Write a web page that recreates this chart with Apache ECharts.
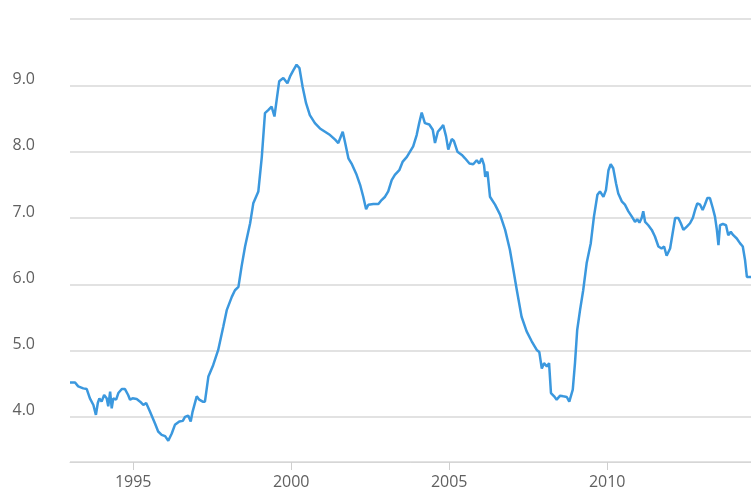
<!DOCTYPE html>
<html>
<head>
<meta charset="utf-8">
<script src="https://cdn.jsdelivr.net/npm/echarts@6/dist/echarts.min.js"></script>
<style>
  html, body { margin: 0; padding: 0; background: #ffffff; }
  #chart { width: 751px; height: 488px; }
</style>
</head>
<body>
<div id="chart"></div>
<script>
// Time (decimal years) and values
const years = [
  1993.00, 1993.16, 1993.26, 1993.42, 1993.53, 1993.63, 1993.74, 1993.82, 1993.88, 1993.93,
  1994.00, 1994.08, 1994.16, 1994.21, 1994.27, 1994.32, 1994.37, 1994.46, 1994.53, 1994.64,
  1994.74, 1994.84, 1994.90, 1994.98, 1995.11, 1995.22, 1995.32, 1995.41, 1995.53, 1995.69,
  1995.79, 1995.90, 1996.01, 1996.11, 1996.22, 1996.32, 1996.46, 1996.57, 1996.64, 1996.74,
  1996.82, 1996.88, 1997.01, 1997.09, 1997.20, 1997.27, 1997.38, 1997.53, 1997.69, 1997.85,
  1997.96, 1998.12, 1998.22, 1998.33, 1998.43, 1998.54, 1998.70, 1998.80, 1998.96, 1999.07,
  1999.17, 1999.28, 1999.38, 1999.47, 1999.54, 1999.62, 1999.75, 1999.88, 1999.96, 2000.07,
  2000.17, 2000.26, 2000.36, 2000.47, 2000.59, 2000.75, 2000.91, 2001.07, 2001.23, 2001.39,
  2001.49, 2001.54, 2001.63, 2001.70, 2001.81, 2001.91, 2001.97, 2002.07, 2002.18, 2002.28,
  2002.37, 2002.44, 2002.60, 2002.76, 2002.86, 2002.97, 2003.07, 2003.18, 2003.28, 2003.42,
  2003.53, 2003.66, 2003.76, 2003.86, 2003.97, 2004.05, 2004.13, 2004.23, 2004.37, 2004.48,
  2004.55, 2004.64, 2004.73, 2004.81, 2004.90, 2004.97, 2005.08, 2005.15, 2005.26, 2005.40,
  2005.50, 2005.64, 2005.76, 2005.87, 2005.95, 2006.03, 2006.10, 2006.14, 2006.21, 2006.29,
  2006.45, 2006.61, 2006.77, 2006.92, 2007.03, 2007.14, 2007.29, 2007.45, 2007.61, 2007.77,
  2007.85, 2007.93, 2008.00, 2008.09, 2008.16, 2008.22, 2008.32, 2008.40, 2008.51, 2008.61,
  2008.72, 2008.80, 2008.91, 2008.98, 2009.05, 2009.14, 2009.24, 2009.35, 2009.48, 2009.58,
  2009.69, 2009.77, 2009.88, 2009.96, 2010.04, 2010.11, 2010.19, 2010.28, 2010.35, 2010.46,
  2010.56, 2010.67, 2010.78, 2010.88, 2010.95, 2011.02, 2011.09, 2011.14, 2011.20, 2011.30,
  2011.41, 2011.51, 2011.62, 2011.72, 2011.80, 2011.88, 2011.99, 2012.07, 2012.15, 2012.25,
  2012.33, 2012.41, 2012.52, 2012.62, 2012.71, 2012.78, 2012.85, 2012.94, 2013.02, 2013.09,
  2013.17, 2013.25, 2013.34, 2013.41, 2013.47, 2013.52, 2013.57, 2013.66, 2013.76, 2013.83,
  2013.91, 2013.99, 2014.10, 2014.20, 2014.29, 2014.36, 2014.42, 2014.55
];
const values = [
  4.52, 4.52, 4.46, 4.43, 4.42, 4.28, 4.18, 4.03, 4.21, 4.28,
  4.23, 4.33, 4.28, 4.16, 4.38, 4.13, 4.28, 4.26, 4.36, 4.42,
  4.42, 4.33, 4.26, 4.28, 4.27, 4.23, 4.18, 4.21, 4.08, 3.90,
  3.78, 3.73, 3.71, 3.64, 3.75, 3.88, 3.93, 3.94, 4.00, 4.02,
  3.93, 4.08, 4.31, 4.26, 4.23, 4.23, 4.61, 4.78, 5.01, 5.36,
  5.61, 5.81, 5.91, 5.96, 6.27, 6.57, 6.92, 7.22, 7.40, 7.92,
  8.58, 8.63, 8.68, 8.53, 8.78, 9.06, 9.11, 9.03, 9.13, 9.23,
  9.31, 9.26, 8.98, 8.73, 8.55, 8.43, 8.35, 8.30, 8.25, 8.18,
  8.13, 8.15, 8.30, 8.15, 7.90, 7.82, 7.80, 7.65, 7.50, 7.32,
  7.13, 7.20, 7.21, 7.21, 7.27, 7.32, 7.40, 7.57, 7.65, 7.72,
  7.85, 7.92, 8.00, 8.08, 8.25, 8.43, 8.59, 8.43, 8.41, 8.33,
  8.13, 8.30, 8.35, 8.40, 8.23, 8.03, 8.19, 8.16, 8.00, 7.95,
  7.90, 7.82, 7.81, 7.87, 7.82, 7.90, 7.80, 7.62, 7.70, 7.32,
  7.20, 7.05, 6.82, 6.52, 6.22, 5.91, 5.51, 5.29, 5.14, 5.01,
  4.98, 4.73, 4.81, 4.76, 4.81, 4.36, 4.31, 4.26, 4.32, 4.31,
  4.30, 4.23, 4.41, 4.81, 5.31, 5.61, 5.91, 6.32, 6.62, 7.02,
  7.35, 7.40, 7.32, 7.42, 7.72, 7.81, 7.75, 7.52, 7.37, 7.25,
  7.20, 7.10, 7.02, 6.94, 6.98, 6.93, 7.00, 7.10, 6.94, 6.89,
  6.82, 6.72, 6.57, 6.54, 6.57, 6.43, 6.54, 6.77, 7.00, 7.00,
  6.92, 6.82, 6.87, 6.92, 7.00, 7.12, 7.22, 7.20, 7.12, 7.20,
  7.30, 7.30, 7.15, 7.02, 6.82, 6.59, 6.89, 6.91, 6.89, 6.74,
  6.79, 6.74, 6.69, 6.62, 6.57, 6.37, 6.11, 6.11
];
const xTickYears = [1995, 2000, 2005, 2010];
const yTickValues = [4, 5, 6, 7, 8, 9];

const seriesData = years.map((y, i) => [y, values[i]]);

const chart = echarts.init(document.getElementById('chart'), null, { renderer: 'canvas' });
chart.setOption({
  animation: false,
  backgroundColor: '#ffffff',
  grid: { left: 70, right: 0, top: 19, bottom: 26, containLabel: false, outerBoundsMode: 'none' },
  xAxis: {
    type: 'value',
    min: 1993,
    max: 2014.55,
    splitLine: { show: false },
    axisLine: { show: true, lineStyle: { color: '#d6d6d6', width: 1 } },
    axisTick: { show: true, length: 8, customValues: xTickYears, lineStyle: { color: '#cfcfcf', width: 1 } },
    axisLabel: {
      customValues: xTickYears,
      margin: 12,
      color: '#606060',
      fontFamily: 'Open Sans',
      fontSize: 16,
      formatter: v => String(Math.round(v))
    }
  },
  yAxis: {
    type: 'value',
    min: 3.32,
    max: 10,
    splitNumber: 7,
    axisLine: { show: false },
    axisTick: { show: false },
    splitLine: { show: true, lineStyle: { color: '#d9d9d9', width: 1.5 } },
    axisLabel: {
      margin: 35,
      color: '#606060',
      fontFamily: 'Open Sans',
      fontSize: 16,
      lineHeight: 12,
      verticalAlign: 'bottom',
      formatter: v => {
        const hit = yTickValues.find(t => Math.abs(t - v) < 1e-6);
        return hit !== undefined ? hit.toFixed(1) : '';
      }
    }
  },
  series: [{
    type: 'line',
    data: seriesData,
    showSymbol: false,
    symbol: 'none',
    lineStyle: { color: '#3b98de', width: 2.5 },
    clip: true
  }]
});
</script>
</body>
</html>
